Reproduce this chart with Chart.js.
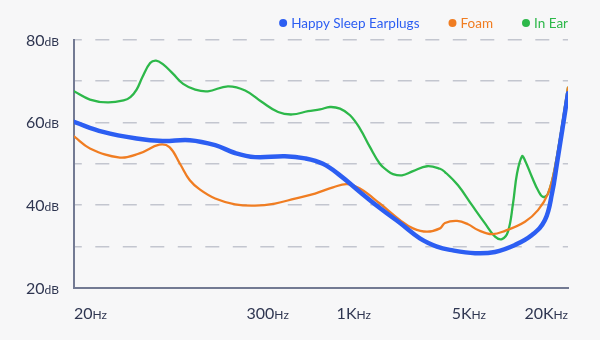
<!DOCTYPE html>
<html>
<head>
<meta charset="utf-8">
<script src="https://cdn.jsdelivr.net/npm/chart.js@4.4.1/dist/chart.umd.min.js"></script>
<style>
  html, body { margin: 0; padding: 0; background: #f7f7f8; }
  #wrap { width: 600px; height: 340px; position: relative; }
</style>
</head>
<body>
<div id="wrap"><canvas id="chart" width="600" height="340"></canvas></div>
<script>
// Series names and colours
const seriesNames = ['Happy Sleep Earplugs', 'Foam', 'In Ear'];
const seriesColors = ['#2c5ef2', '#f07d22', '#2db84a'];

// Happy Sleep Earplugs response (Hz / dB)
const happyFreq = [20, 30, 48, 69, 101, 144, 190, 251, 382, 506, 650, 825, 1090, 1440, 1910, 2520, 3200, 3840, 5450, 7210, 9530, 12080, 14490, 16000, 17140, 20000];
const happyDb   = [60.1, 57.7, 56.1, 55.5, 55.7, 54.5, 52.6, 51.6, 51.8, 51.3, 50, 47.2, 43.2, 39.3, 35.7, 32, 30, 29.2, 28.4, 28.7, 30.4, 32.8, 36.4, 42.9, 50.1, 67];

// Foam response (Hz / dB)
const foamFreq = [20, 25, 38, 50, 66, 76, 88, 101, 116, 144, 190, 251, 332, 440, 582, 748, 910, 1090, 1440, 1910, 2290, 2785, 3340, 3580, 4240, 4940, 5680, 6910, 8290, 10960, 13150, 15120, 16680, 20000];
const foamDb   = [56.6, 53.7, 51.5, 52.5, 54.6, 54, 50, 46, 43.8, 41.6, 40.2, 39.9, 40.4, 41.6, 42.8, 44.3, 45.1, 44, 40.4, 36.4, 34.4, 33.6, 34.4, 35.7, 36.2, 35.4, 34, 33, 33.8, 36, 38.8, 42.8, 49.2, 68.4];

// In Ear response (Hz / dB)
const inEarFreq = [20, 25, 32, 40, 44, 48, 52, 58, 63, 69, 80, 92, 109, 130, 172, 219, 277, 347, 422, 528, 624, 717, 825, 949, 1090, 1255, 1440, 1592, 1730, 1963, 2290, 2785, 3340, 3580, 4296, 5224, 6266, 7210, 7943, 8640, 9270, 9800, 10510, 10960, 12080, 13150, 14100, 15120, 16680, 20000];
const inEarDb   = [67.5, 65.5, 64.8, 65.3, 66.1, 67.9, 70.9, 74.3, 74.9, 74.1, 71.7, 69.3, 67.9, 67.5, 68.7, 67.7, 64.9, 62.5, 61.9, 62.7, 63.1, 63.7, 63.3, 61.7, 58.5, 54, 50, 48.4, 47.5, 47.2, 48.2, 49.4, 48.8, 48, 44.8, 40, 35.6, 32.4, 31.8, 33.6, 40.4, 47.6, 51.8, 50.8, 46.8, 43.6, 42, 42.8, 49.2, 68.4];

// Axis ticks
const yTickValues = [20, 40, 60, 80];
const yTickUnit = 'dB';
const xTickValues = [20, 300, 1000, 5000, 20000];
const xTickText = ['20', '300', '1K', '5K', '20K'];
const xTickUnit = 'Hz';

const FONT = 'Lato, "Noto Sans", sans-serif';
const TEXT_COLOR = '#2f3651';
const AXIS_COLOR = '#737a93';
const GRID_COLOR = '#c3c6cf';

const pairs = (xs, ys) => xs.map((x, i) => ({ x: x, y: ys[i] }));

const seriesData = [pairs(happyFreq, happyDb), pairs(foamFreq, foamDb), pairs(inEarFreq, inEarDb)];
const widths = [4.5, 2.3, 2.3];

// Tick labels: large number with a smaller unit beside it, plus the legend
const axisText = {
  id: 'axisText',
  afterDraw(chart) {
    const { ctx, chartArea, scales } = chart;
    const x = scales.x, y = scales.y;
    ctx.save();
    ctx.fillStyle = TEXT_COLOR;
    ctx.textBaseline = 'alphabetic';

    // y axis labels
    const yRight = chartArea.left - 15;
    yTickValues.forEach(v => {
      const py = y.getPixelForValue(v) + 6;
      ctx.textAlign = 'right';
      ctx.font = '12px ' + FONT;
      const uw = ctx.measureText(yTickUnit).width;
      ctx.fillText(yTickUnit, yRight, py);
      ctx.font = '16px ' + FONT;
      ctx.fillText(String(v), yRight - uw, py);
    });

    // x axis labels
    const by = chartArea.bottom + 31;
    xTickValues.forEach((v, i) => {
      const num = xTickText[i];
      ctx.font = '16px ' + FONT;
      const nw = ctx.measureText(num).width;
      ctx.font = '12px ' + FONT;
      const uw = ctx.measureText(xTickUnit).width;
      const total = nw + uw;
      const px = x.getPixelForValue(v);
      let start;
      if (i === 0) start = px;
      else if (i === xTickValues.length - 1) start = px - total;
      else start = px - total / 2;
      ctx.textAlign = 'left';
      ctx.font = '16px ' + FONT;
      ctx.fillText(num, start, by);
      ctx.font = '12px ' + FONT;
      ctx.fillText(xTickUnit, start + nw, by);
    });

    // legend, right aligned with the plot
    ctx.font = '13.5px ' + FONT;
    ctx.textBaseline = 'middle';
    ctx.textAlign = 'left';
    let right = chartArea.right;
    const ly = 23;
    for (let i = seriesNames.length - 1; i >= 0; i--) {
      const w = ctx.measureText(seriesNames[i]).width;
      const tx = right - w;
      ctx.fillStyle = seriesColors[i];
      ctx.fillText(seriesNames[i], tx, ly + 1);
      ctx.beginPath();
      ctx.arc(tx - 8, ly, 4, 0, Math.PI * 2);
      ctx.fill();
      right = tx - 8 - 33;
    }
    ctx.restore();
  }
};

new Chart(document.getElementById('chart'), {
  type: 'line',
  data: {
    datasets: seriesNames.map((name, i) => ({
      label: name,
      data: seriesData[i],
      borderColor: seriesColors[i],
      backgroundColor: seriesColors[i],
      borderWidth: widths[i],
      pointRadius: 0,
      fill: false,
      tension: 0.4,
      borderCapStyle: 'round',
      borderJoinStyle: 'round'
    }))
  },
  options: {
    responsive: false,
    animation: false,
    devicePixelRatio: 1,
    layout: { padding: { left: 0, right: 32, top: 39.5, bottom: 0 } },
    plugins: { legend: { display: false }, tooltip: { enabled: false } },
    scales: {
      x: {
        type: 'logarithmic',
        min: 20,
        max: 20000,
        afterBuildTicks(s) { s.ticks = xTickValues.map(v => ({ value: v })); },
        afterFit(s) { s.height = 52; },
        ticks: { display: false },
        grid: { display: false, drawTicks: false },
        border: { display: true, color: AXIS_COLOR, width: 2 }
      },
      y: {
        min: 20,
        max: 80,
        afterFit(s) { s.width = 74; },
        ticks: { display: false, stepSize: 10 },
        grid: {
          drawTicks: false,
          lineWidth: 1.5,
          color: c => (c.tick && c.tick.value === 20) ? 'rgba(0,0,0,0)' : GRID_COLOR
        },
        border: { display: true, color: AXIS_COLOR, width: 2, dash: [14, 13.5], dashOffset: 7.2 }
      }
    }
  },
  plugins: [axisText]
});
</script>
</body>
</html>
